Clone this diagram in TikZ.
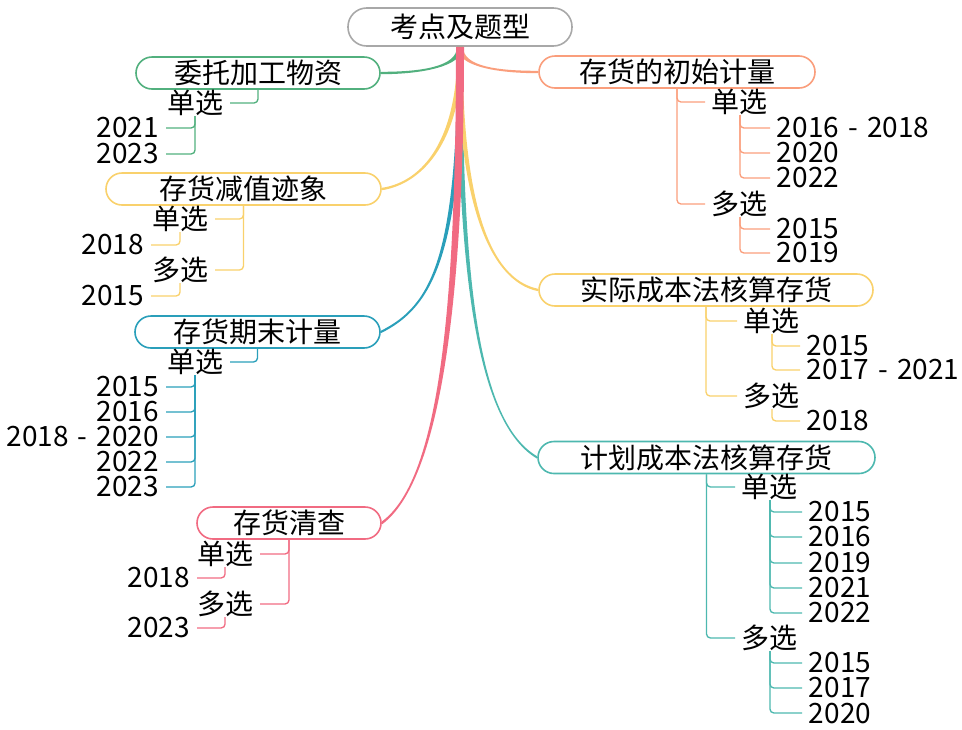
\documentclass[tikz,border=0pt]{standalone}
\usepackage{fontspec}
\setmainfont{Noto Sans CJK SC}
\usetikzlibrary{calc}
\definecolor{cgray}{HTML}{A8A8A8}
\definecolor{cgreen}{HTML}{52B07E}
\definecolor{cyellow}{HTML}{F9D16C}
\definecolor{cblue}{HTML}{2A9FBA}
\definecolor{cpink}{HTML}{F16B82}
\definecolor{csalmon}{HTML}{FA9E7C}
\definecolor{cteal}{HTML}{4DB8AF}
\newcommand\yrdash{\hspace{0.33em}-\hspace{0.33em}}
% #1 colour, #2 start, #3 end, #4 first control dy, #5/#6 second control offset, #7 side, #8 half width at start, #9 half width at end
\newcommand\mmbranch[9]{%
  \fill[#1] ($(#2)+({-(#7)*#8},0)$) .. controls ($(#2)+({-(#7)*#8},#4)$) and ($(#3)+(#5,{#6+#9})$) .. ($(#3)+(0,#9)$)
    -- ($(#3)+(0,-#9)$) .. controls ($(#3)+(#5,{#6-#9})$) and ($(#2)+({(#7)*#8},#4)$) .. ($(#2)+({(#7)*#8},0)$) -- cycle;}
\begin{document}
\begin{tikzpicture}[x=0.75pt,y=-0.75pt,
  every node/.style={font=\fontsize{21pt}{25pt}\selectfont},
  pill/.style={draw, line width=1.2pt, fill=white, rounded corners=12pt, minimum height=24pt, inner sep=0pt},
  lab/.style={inner xsep=5pt, inner ysep=0pt},
  elb/.style={line width=1pt, rounded corners=3pt}]
\useasboundingbox (0,0) rectangle (962,729);

% main nodes
\node[pill, draw=cgray, minimum width=168pt, minimum height=28.5pt, rounded corners=14pt] (root) at (460,27) {考点及题型};
\node[pill, draw=cgreen, minimum width=183pt] (p1) at (258,73) {委托加工物资};
\node[pill, draw=cyellow, minimum width=206.25pt] (p2) at (243.5,189) {存货减值迹象};
\node[pill, draw=cblue, minimum width=183.75pt] (p3) at (257.5,332) {存货期末计量};
\node[pill, draw=cpink, minimum width=138pt] (p4) at (289,523) {存货清查};
\node[pill, draw=csalmon, minimum width=207pt] (p5) at (677,72) {存货的初始计量};
\node[pill, draw=cyellow, minimum width=250.5pt] (p6) at (706,290) {实际成本法核算存货};
\node[pill, draw=cteal, minimum width=252.75pt] (p7) at (706.5,457.5) {计划成本法核算存货};

% branches
\mmbranch{cyellow}{root.south}{p2.east}{102}{35}{-5}{-1}{2.5}{1.2}
\mmbranch{cteal}{root.south}{p7.west}{230}{-60}{-35}{1}{2.5}{1.2}
\mmbranch{cyellow}{root.south}{p6.west}{152}{-50}{-10}{1}{2.5}{1.2}
\mmbranch{cblue}{root.south}{p3.east}{212}{50}{-25}{-1}{2.5}{1.2}
\mmbranch{cgreen}{root.south}{p1.east}{20}{40}{0}{-1}{3}{1.2}
\mmbranch{csalmon}{root.south}{p5.west}{20}{-40}{0}{1}{3}{1.2}
\mmbranch{cpink}{root.south}{p4.east}{252}{59}{-43}{-1}{4}{1.5}

% 委托加工物资
\node[lab, anchor=east] (s1) at (230,103) {单选};
\node[lab, anchor=east] (s1a) at (166,128) {2021};
\node[lab, anchor=east] (s1b) at (166,154) {2023};
\draw[elb, cgreen] (p1.south) |- (s1.east);
\draw[elb, cgreen] (s1.south) |- (s1a.east);
\draw[elb, cgreen] (s1.south) |- (s1b.east);

% 存货减值迹象
\node[lab, anchor=east] (s2) at (215,219) {单选};
\node[lab, anchor=east] (m2) at (215,270) {多选};
\node[lab, anchor=east] (s2a) at (151,245) {2018};
\node[lab, anchor=east] (m2a) at (151,296) {2015};
\draw[elb, cyellow] (p2.south) |- (s2.east);
\draw[elb, cyellow] (p2.south) |- (m2.east);
\draw[elb, cyellow] (s2.south) |- (s2a.east);
\draw[elb, cyellow] (m2.south) |- (m2a.east);

% 存货期末计量
\node[lab, anchor=east] (s3) at (230,362) {单选};
\node[lab, anchor=east] (s3a) at (166,387) {2015};
\node[lab, anchor=east] (s3b) at (166,412) {2016};
\node[lab, anchor=east] (s3c) at (166,437) {2018\yrdash 2020};
\node[lab, anchor=east] (s3d) at (166,462) {2022};
\node[lab, anchor=east] (s3e) at (166,487) {2023};
\draw[elb, cblue] (p3.south) |- (s3.east);
\foreach \k in {s3a,s3b,s3c,s3d,s3e} \draw[elb, cblue] (s3.south) |- (\k.east);

% 存货清查
\node[lab, anchor=east] (s4) at (260,554) {单选};
\node[lab, anchor=east] (m4) at (260,604) {多选};
\node[lab, anchor=east] (s4a) at (197,578) {2018};
\node[lab, anchor=east] (m4a) at (197,628) {2023};
\draw[elb, cpink] (p4.south) |- (s4.east);
\draw[elb, cpink] (p4.south) |- (m4.east);
\draw[elb, cpink] (s4.south) |- (s4a.east);
\draw[elb, cpink] (m4.south) |- (m4a.east);

% 存货的初始计量
\node[lab, anchor=west] (s5) at (705,102) {单选};
\node[lab, anchor=west] (m5) at (705,204) {多选};
\node[lab, anchor=west] (s5a) at (770,128) {2016\yrdash 2018};
\node[lab, anchor=west] (s5b) at (770,153) {2020};
\node[lab, anchor=west] (s5c) at (770,178) {2022};
\node[lab, anchor=west] (m5a) at (770,229) {2015};
\node[lab, anchor=west] (m5b) at (770,253) {2019};
\draw[elb, csalmon] (p5.south) |- (s5.west);
\draw[elb, csalmon] (p5.south) |- (m5.west);
\foreach \k in {s5a,s5b,s5c} \draw[elb, csalmon] (s5.south) |- (\k.west);
\foreach \k in {m5a,m5b} \draw[elb, csalmon] (m5.south) |- (\k.west);

% 实际成本法核算存货
\node[lab, anchor=west] (s6) at (737,321) {单选};
\node[lab, anchor=west] (m6) at (737,396) {多选};
\node[lab, anchor=west] (s6a) at (800,346) {2015};
\node[lab, anchor=west] (s6b) at (800,370) {2017\yrdash 2021};
\node[lab, anchor=west] (m6a) at (800,421) {2018};
\draw[elb, cyellow] (p6.south) |- (s6.west);
\draw[elb, cyellow] (p6.south) |- (m6.west);
\foreach \k in {s6a,s6b} \draw[elb, cyellow] (s6.south) |- (\k.west);
\draw[elb, cyellow] (m6.south) |- (m6a.west);

% 计划成本法核算存货
\node[lab, anchor=west] (s7) at (735,487) {单选};
\node[lab, anchor=west] (m7) at (735,638) {多选};
\node[lab, anchor=west] (s7a) at (802,512) {2015};
\node[lab, anchor=west] (s7b) at (802,537) {2016};
\node[lab, anchor=west] (s7c) at (802,563) {2019};
\node[lab, anchor=west] (s7d) at (802,588) {2021};
\node[lab, anchor=west] (s7e) at (802,613) {2022};
\node[lab, anchor=west] (m7a) at (802,663) {2015};
\node[lab, anchor=west] (m7b) at (802,688) {2017};
\node[lab, anchor=west] (m7c) at (802,713) {2020};
\draw[elb, cteal] (p7.south) |- (s7.west);
\draw[elb, cteal] (p7.south) |- (m7.west);
\foreach \k in {s7a,s7b,s7c,s7d,s7e} \draw[elb, cteal] (s7.south) |- (\k.west);
\foreach \k in {m7a,m7b,m7c} \draw[elb, cteal] (m7.south) |- (\k.west);
\end{tikzpicture}
\end{document}
